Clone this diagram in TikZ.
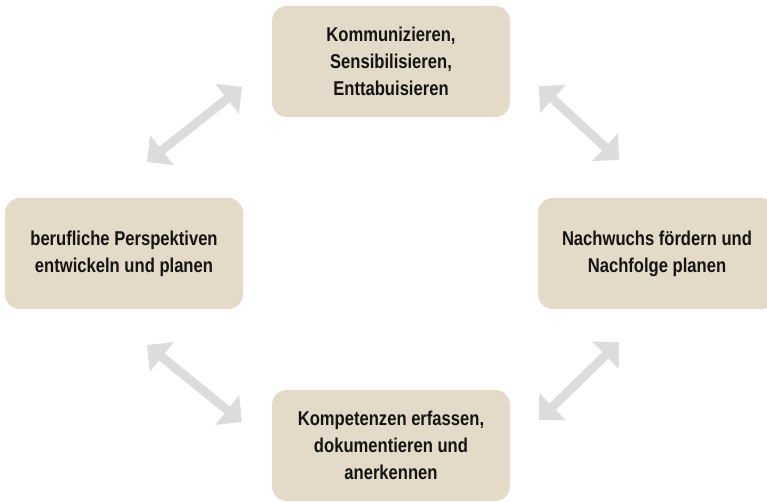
\documentclass[tikz,border=0pt]{standalone}
\usepackage{fontspec}
\setmainfont[FakeStretch=0.83]{Liberation Sans}
\usetikzlibrary{arrows.meta}
\definecolor{boxfill}{HTML}{E3DBC7}
\definecolor{arrowgray}{HTML}{DCDCDC}
\definecolor{txt}{HTML}{141414}
\begin{document}
\begin{tikzpicture}[x=1pt,y=1pt,
  stepbox/.style={fill=boxfill, rounded corners=15pt, minimum width=238pt, minimum height=111pt,
    inner sep=0pt, align=center, text=txt, font=\bfseries\fontsize{20}{27}\selectfont},
  dblarrow/.style={draw=arrowgray, line width=9pt,
    {Triangle[width=37pt,length=19pt]}-{Triangle[width=37pt,length=19pt]}}]
\useasboundingbox (0,0) rectangle (767,501);
\clip (0,0) rectangle (767,501);

\node[stepbox] (top) at (391,439.5) {Kommunizieren,\\Sensibilisieren,\\Enttabuisieren};
\node[stepbox] (left) at (124,247.5) {berufliche Perspektiven\\entwickeln und planen};
\node[stepbox] (right) at (657,247.5) {Nachwuchs fördern und\\Nachfolge planen};
\node[stepbox] (bottom) at (391,55.5) {Kompetenzen erfassen,\\dokumentieren und\\anerkennen};

\coordinate (tlA) at (147,339);
\coordinate (tlB) at (242,414);
\coordinate (blA) at (147,156);
\coordinate (blB) at (242,79);
\coordinate (trA) at (539,415);
\coordinate (trB) at (619,341);
\coordinate (brA) at (619,159);
\coordinate (brB) at (539,81);

\draw[dblarrow] (tlA) -- (tlB);
\draw[dblarrow] (blA) -- (blB);
\draw[dblarrow] (trA) -- (trB);
\draw[dblarrow] (brA) -- (brB);
\end{tikzpicture}
\end{document}
